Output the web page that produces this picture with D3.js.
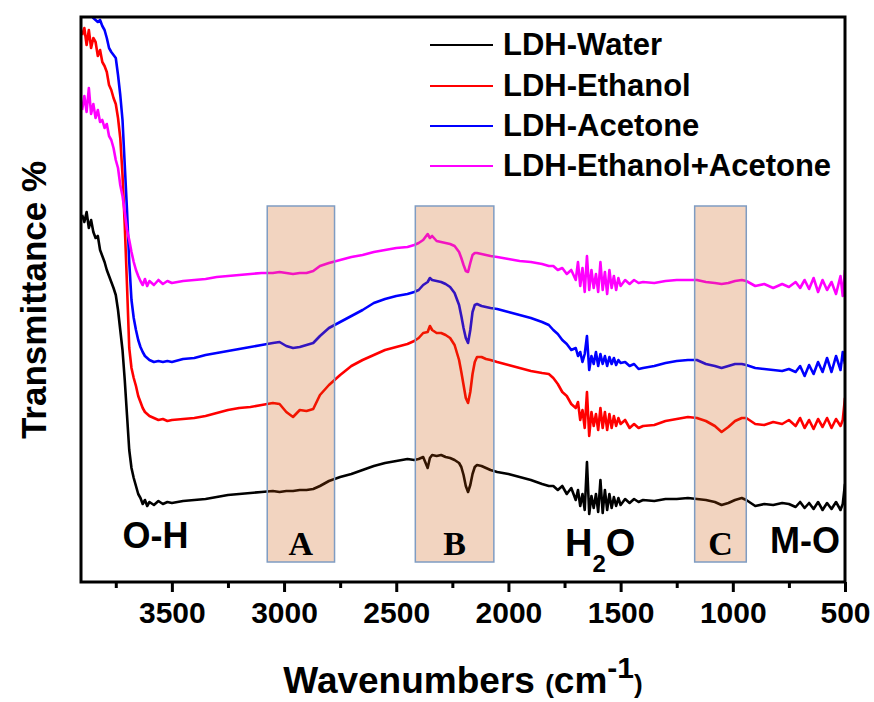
<!DOCTYPE html>
<html>
<head>
<meta charset="utf-8">
<script src="https://cdn.jsdelivr.net/npm/d3@7"></script>
<style>
body { margin: 0; background: #fff; }
text { font-family: "Liberation Sans", Arial, sans-serif; font-weight: bold; }
</style>
</head>
<body>
<svg></svg>
<script>
// wavenumbers shared by all four spectra (cm-1)
let wavenumbers = [
    3900, 3890, 3880, 3870, 3860, 3850, 3840, 3830, 3820, 3810, 3800, 3790, 3780, 3770, 3760, 3750,
    3740, 3730, 3720, 3710, 3700, 3690, 3680, 3670, 3660, 3650, 3640, 3630, 3620, 3610, 3600,
    3580, 3560, 3540, 3520, 3500, 3450, 3400, 3350, 3300, 3250, 3200, 3150, 3100, 3050,
    3020, 2990, 2960, 2930, 2900, 2870, 2840, 2800, 2750, 2700, 2650, 2600, 2550, 2500, 2450,
    2420, 2400, 2380, 2360, 2350, 2340, 2320, 2300, 2280, 2260, 2240, 2220, 2210, 2200, 2190,
    2180, 2170, 2160, 2150, 2140, 2120, 2100, 2080, 2050,
    2000, 1950, 1900, 1850, 1820, 1800, 1780, 1760, 1740, 1720, 1700, 1690, 1680, 1670, 1660,
    1650, 1640, 1630, 1620, 1610, 1600, 1590, 1580, 1570, 1560, 1550, 1540, 1530, 1520, 1510,
    1500, 1480, 1460, 1440, 1420, 1400,
    1350, 1300, 1250, 1200, 1160, 1120, 1080, 1050, 1020, 990, 960, 940, 900, 860, 820, 780,
    750, 720, 700, 680, 660, 640, 620, 600, 580, 560, 540, 520, 510, 500
]

let water = [
    73.4, 72.0, 74.0, 70.8, 72.4, 70.0, 68.8, 69.2, 66.4, 65.2, 64.0, 62.4, 61.2, 60.0, 58.8, 57.4,
    54.4, 50.4, 46.4, 40.4, 33.4, 26.4, 22.8, 20.8, 19.2, 17.6, 16.8, 15.6, 16.4, 15.2, 16.0,
    15.4, 16.2, 15.6, 16.0, 15.8, 16.2, 16.4, 16.6, 17.0, 17.4, 17.6, 17.8, 18.0, 18.2,
    18.0, 18.2, 18.2, 18.4, 18.4, 18.6, 19.2, 20.2, 21.0, 21.6, 22.4, 23.2, 23.8, 24.2, 24.6,
    24.4, 24.6, 25.0, 22.8, 24.8, 25.4, 25.2, 25.4, 25.0, 24.8, 24.4, 23.8, 23.0, 21.4, 19.2,
    18.0, 19.4, 21.6, 23.0, 23.4, 23.2, 22.8, 22.4, 22.0,
    21.6, 21.0, 20.4, 19.6, 19.2, 19.2, 18.4, 19.2, 17.6, 18.8, 16.4, 18.4, 15.2, 17.6, 14.4,
    24.0, 13.6, 17.2, 14.8, 17.6, 14.0, 20.4, 13.8, 18.4, 14.4, 17.6, 14.8, 17.0, 15.2, 16.8,
    15.4, 16.6, 15.8, 16.6, 16.0, 16.4,
    16.2, 16.6, 16.6, 16.8, 16.6, 16.4, 16.0, 15.4, 15.8, 16.4, 16.8, 16.4, 15.2, 15.6, 15.4, 15.8,
    15.6, 15.0, 16.0, 14.8, 15.8, 14.6, 16.0, 14.4, 15.8, 14.6, 16.0, 14.4, 15.6, 19.6
]

let ethanol = [
    109.4, 110.8, 107.4, 110.4, 106.8, 108.8, 108.0, 105.2, 106.4, 104.0, 103.2, 102.0, 99.4, 98.4, 96.8, 95.6,
    92.8, 88.8, 81.4, 71.4, 59.4, 46.8, 42.8, 40.8, 39.2, 37.2, 36.0, 34.8, 34.0, 33.6, 33.2,
    32.8, 32.4, 32.6, 32.2, 32.4, 32.6, 32.8, 33.2, 33.8, 34.4, 34.8, 35.0, 35.4, 35.8,
    35.6, 34.0, 33.0, 34.4, 34.2, 34.6, 37.4, 39.4, 41.4, 43.2, 44.4, 45.4, 46.4, 47.0, 47.6,
    48.2, 48.8, 49.8, 50.0, 51.2, 50.4, 49.8, 49.8, 49.4, 48.8, 47.4, 44.4, 42.0, 39.4, 36.8,
    35.8, 38.0, 41.6, 44.0, 45.0, 45.0, 44.6, 44.4, 44.0,
    43.4, 42.8, 42.2, 41.8, 41.6, 40.8, 39.6, 38.0, 37.2, 35.6, 34.8, 36.0, 32.4, 34.4, 30.8,
    38.0, 29.2, 34.0, 31.2, 33.6, 30.4, 34.8, 30.8, 34.0, 30.4, 33.6, 30.8, 33.2, 31.2, 32.8,
    31.6, 32.4, 30.8, 31.6, 30.8, 31.2,
    31.4, 32.2, 32.6, 33.0, 32.8, 32.2, 31.2, 30.0, 31.0, 32.2, 32.8, 32.8, 31.6, 31.4, 32.0, 31.6,
    32.4, 31.2, 32.8, 30.8, 32.4, 30.6, 32.6, 31.0, 32.8, 30.8, 32.6, 31.2, 32.4, 36.8
]

let acetone = [
    114.8, 115.2, 114.4, 114.0, 113.6, 112.8, 112.4, 112.0, 112.4, 111.2, 110.4, 108.8, 106.8, 106.0, 105.4, 104.8,
    101.4, 97.4, 92.4, 83.4, 74.4, 64.0, 56.4, 52.8, 50.4, 48.4, 47.0, 46.0, 45.2, 44.8, 44.4,
    44.0, 44.2, 44.0, 44.2, 44.0, 44.6, 44.8, 45.4, 45.8, 46.2, 46.6, 47.0, 47.4, 47.8,
    48.0, 47.2, 46.8, 47.0, 47.4, 47.8, 49.2, 50.8, 52.0, 53.2, 54.4, 55.8, 56.6, 57.2, 57.6,
    58.0, 58.4, 59.4, 60.0, 60.8, 60.4, 60.2, 60.0, 59.6, 59.0, 57.8, 55.4, 53.2, 50.8, 48.8,
    47.8, 50.4, 54.0, 55.4, 55.6, 55.2, 55.0, 54.8, 54.6,
    54.0, 53.4, 52.8, 52.0, 51.4, 50.4, 49.6, 48.4, 47.6, 46.4, 46.8, 45.2, 46.0, 44.0, 45.6,
    49.2, 42.4, 45.2, 43.6, 46.0, 43.2, 45.6, 43.6, 45.2, 43.2, 45.0, 43.6, 44.8, 43.4, 44.4,
    43.8, 44.0, 43.2, 43.6, 42.6, 42.8,
    43.2, 43.8, 44.2, 44.4, 44.4, 43.6, 43.2, 42.8, 43.2, 43.6, 43.6, 43.4, 42.8, 42.6, 42.4, 42.2,
    42.6, 42.0, 43.2, 41.2, 43.4, 41.6, 44.0, 42.0, 44.8, 42.0, 45.2, 42.4, 46.0, 43.6
]

let ethAcetone = [
    94.4, 97.2, 94.0, 98.8, 93.6, 95.6, 92.8, 94.4, 92.0, 92.4, 90.8, 91.6, 89.2, 88.4, 86.8, 84.4,
    82.8, 79.4, 77.2, 74.0, 70.4, 68.4, 66.0, 64.0, 62.4, 61.2, 60.2, 59.4, 60.6, 59.2, 60.2,
    59.4, 60.4, 59.6, 60.2, 59.8, 60.2, 60.4, 60.6, 61.0, 61.2, 61.4, 61.6, 61.8, 61.8,
    62.0, 61.8, 61.6, 61.8, 61.8, 62.2, 63.2, 63.8, 64.4, 65.0, 65.4, 66.0, 66.4, 66.8, 67.0,
    67.4, 67.8, 68.4, 69.6, 68.8, 69.2, 68.2, 68.0, 67.8, 67.6, 67.2, 66.0, 64.8, 63.4, 62.2,
    62.0, 63.8, 65.4, 65.8, 65.8, 65.6, 65.4, 65.2, 65.0,
    64.6, 64.2, 64.0, 63.6, 63.2, 63.2, 62.4, 62.8, 61.6, 62.4, 60.4, 64.0, 59.2, 62.8, 58.0,
    65.2, 58.4, 62.4, 58.8, 61.6, 58.0, 64.0, 58.4, 62.0, 57.6, 62.4, 58.8, 61.2, 58.4, 60.8,
    59.2, 60.4, 59.6, 60.4, 59.8, 60.0,
    59.8, 60.2, 60.4, 60.4, 60.4, 60.0, 59.8, 59.6, 59.8, 60.2, 60.4, 60.2, 59.2, 59.6, 58.8, 59.6,
    59.0, 60.0, 58.8, 60.4, 58.6, 60.8, 58.0, 60.4, 58.4, 60.0, 57.6, 61.2, 57.2, 62.4
]

let seriesNames = ["LDH-Water", "LDH-Ethanol", "LDH-Acetone", "LDH-Ethanol+Acetone"]
let seriesValues = [water, ethanol, acetone, ethAcetone]
let seriesColors = ["#000000", "#ff0000", "#0000ff", "#ff00ff"]

let majorTicks = [3500, 3000, 2500, 2000, 1500, 1000, 500]
let minorTicks = [3750, 3250, 2750, 2250, 1750, 1250, 750]

// shaded regions A, B, C
let bandNames = ["A", "B", "C"]
let bandFrom = [3075, 2415, 1170]
let bandTo = [2775, 2065, 940]
let bandTop = 75.2
let bandBottom = 4

var svg = d3.select("svg")
    .attr("width", 874)
    .attr("height", 702)
    .style("background", "#fff")

var margin = {top: 17, right: 29, bottom: 120, left: 81}
var graphWidth = 874 - margin.left - margin.right
var graphHeight = 702 - margin.top - margin.bottom

var mainCanvas = svg.append("g")
    .attr("transform", `translate(${margin.left}, ${margin.top})`)

let scX = d3.scaleLinear()
    .domain([3905, 500])
    .range([0, graphWidth])

let scY = d3.scaleLinear()
    .domain([0, 113])
    .range([graphHeight, 0])

mainCanvas.append("clipPath").attr("id", "plotClip")
    .append("rect")
    .attr("width", graphWidth)
    .attr("height", graphHeight)

let valueLine = d3.line()
    .x((d, i) => scX(wavenumbers[i]))
    .y(d => scY(d))

mainCanvas.append("g")
    .attr("clip-path", "url(#plotClip)")
    .selectAll("path")
    .data(seriesValues).enter().append("path")
    .attr("d", valueLine)
    .attr("fill", "none")
    .attr("stroke", (d, i) => seriesColors[i])
    .attr("stroke-width", 2.6)
    .attr("stroke-linejoin", "round")

// bands go over the lines, tinting them
mainCanvas.selectAll("rect.band")
    .data(bandNames).enter().append("rect")
    .attr("class", "band")
    .attr("x", (d, i) => scX(bandFrom[i]))
    .attr("width", (d, i) => scX(bandTo[i]) - scX(bandFrom[i]))
    .attr("y", scY(bandTop))
    .attr("height", scY(bandBottom) - scY(bandTop))
    .attr("fill", "rgb(203,83,3)")
    .attr("fill-opacity", 0.25)
    .attr("stroke", "#7f9cc2")
    .attr("stroke-width", 1.5)

mainCanvas.selectAll("text.band")
    .data(bandNames).enter().append("text")
    .attr("class", "band")
    .attr("x", (d, i) => scX((bandFrom[i] + bandTo[i]) / 2))
    .attr("y", scY(5.4))
    .attr("text-anchor", "middle")
    .style("font-family", "'Liberation Serif', 'Times New Roman', serif")
    .style("font-size", "34px")
    .text(d => d)

// peak labels
mainCanvas.append("text")
    .attr("x", scX(3720)).attr("y", scY(6.8))
    .style("font-size", "36px")
    .text("O-H")

mainCanvas.append("text")
    .attr("x", scX(834)).attr("y", scY(5.8))
    .style("font-size", "36px")
    .text("M-O")

let h2o = mainCanvas.append("text")
    .attr("x", scX(1748)).attr("y", scY(5.2))
    .style("font-size", "38px")
h2o.append("tspan").text("H")
h2o.append("tspan").attr("dy", 16).style("font-size", "24px").text("2")
h2o.append("tspan").attr("dy", -16).text("O")

// frame
mainCanvas.append("rect")
    .attr("width", graphWidth)
    .attr("height", graphHeight)
    .attr("fill", "none")
    .attr("stroke", "#000")
    .attr("stroke-width", 3)

let xAxis = d3.axisBottom(scX)
    .tickValues(majorTicks)
    .tickSize(10)
    .tickFormat(d3.format("d"))

let xMinor = d3.axisBottom(scX)
    .tickValues(minorTicks)
    .tickSize(6)
    .tickFormat("")

let gx = mainCanvas.append("g")
    .attr("transform", `translate(0, ${graphHeight})`)
    .call(xAxis)
gx.select(".domain").remove()
gx.selectAll("line").attr("stroke-width", 3)
gx.selectAll("text")
    .attr("y", 41).attr("dy", 0)
    .style("font-size", "30px")
    .style("font-family", "'Liberation Sans', Arial, sans-serif")
    .style("font-weight", "bold")
    .attr("fill", "#000")

let gm = mainCanvas.append("g")
    .attr("transform", `translate(0, ${graphHeight})`)
    .call(xMinor)
gm.select(".domain").remove()
gm.selectAll("line").attr("stroke-width", 3)

// axis titles
let xTitle = svg.append("text")
    .attr("x", margin.left + graphWidth / 2)
    .attr("y", 693)
    .attr("text-anchor", "middle")
    .style("font-size", "37px")
xTitle.append("tspan").text("Wavenumbers ")
xTitle.append("tspan").style("font-size", "26px").text("(")
xTitle.append("tspan").text("cm")
xTitle.append("tspan").attr("dy", -15).style("font-size", "30px").text("-1")
xTitle.append("tspan").attr("dy", 15).style("font-size", "26px").text(")")

svg.append("text")
    .attr("transform", "translate(46, 300) rotate(-90)")
    .attr("text-anchor", "middle")
    .style("font-size", "35px")
    .text("Transmittance %")

// legend
let legendRows = [45, 86, 126, 166]
let legend = svg.selectAll("g.legend")
    .data(seriesNames).enter().append("g")
    .attr("class", "legend")
    .attr("transform", (d, i) => `translate(430, ${legendRows[i]})`)
legend.append("line")
    .attr("x1", 0).attr("x2", 63)
    .attr("stroke", (d, i) => seriesColors[i])
    .attr("stroke-width", 2)
legend.append("text")
    .attr("x", 73).attr("y", 10)
    .style("font-size", "31px")
    .text(d => d)
</script>
</body>
</html>
